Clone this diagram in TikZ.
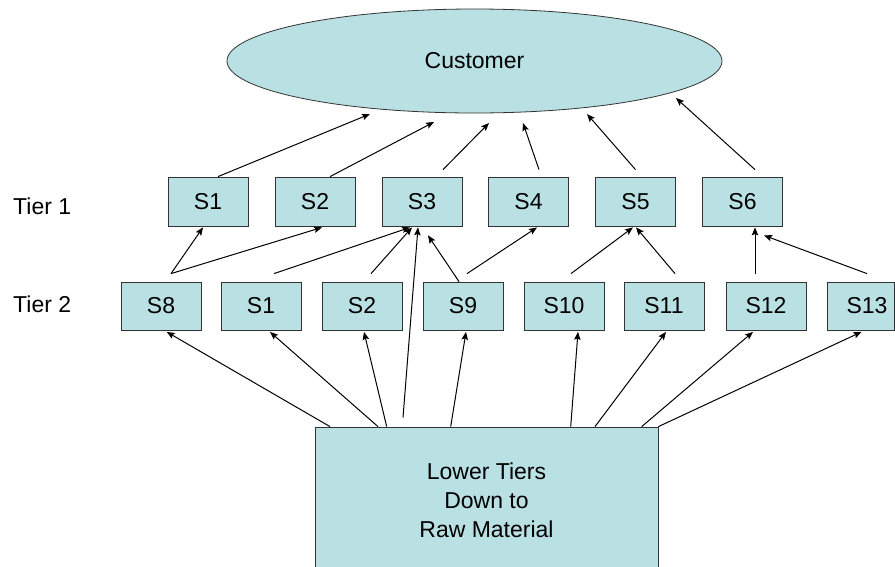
\documentclass[tikz,border=0pt]{standalone}
\usepackage{fontspec}
\setmainfont{Liberation Sans}
\usetikzlibrary{shapes.geometric,arrows.meta,calc}
\definecolor{boxfill}{RGB}{185,224,227}
\begin{document}
\begin{tikzpicture}[x=1pt,y=-1pt,
  every node/.style={font=\fontsize{23}{29}\selectfont},
  sbox/.style={draw=black!80, line width=0.8pt, fill=boxfill,
    minimum width=80pt, minimum height=48pt, inner sep=0pt},
  link/.style={line width=1pt, -{Stealth[length=8pt,width=6.5pt,inset=1.5pt]}},
]
\clip (0,0) rectangle (895,566);
\fill[white] (0,0) rectangle (895,566);

% customer
\node[ellipse, draw=black!80, line width=0.8pt, fill=boxfill,
  minimum width=495pt, minimum height=104pt, inner sep=0pt] (cust) at (474.5,61) {Customer};

% tier labels
\node[anchor=base west, inner sep=0pt] (lab1) at (13,214) {Tier 1};
\node[anchor=base west, inner sep=0pt] (lab2) at (13,312) {Tier 2};

% tier 1 suppliers
\node[sbox, minimum height=49pt] (t1s1) at (208,201.5) {S1};
\node[sbox, minimum height=49pt] (t1s2) at (315,201.5) {S2};
\node[sbox, minimum height=49pt] (t1s3) at (422,201.5) {S3};
\node[sbox, minimum height=49pt] (t1s4) at (528.5,201.5) {S4};
\node[sbox, minimum height=49pt] (t1s5) at (635.5,201.5) {S5};
\node[sbox, minimum height=49pt] (t1s6) at (742.5,201.5) {S6};

% tier 2 suppliers
\node[sbox] (t2s8) at (161,306) {S8};
\node[sbox] (t2s1) at (261,306) {S1};
\node[sbox] (t2s2) at (362,306) {S2};
\node[sbox] (t2s9) at (463,306) {S9};
\node[sbox] (t2s10) at (564,306) {S10};
\node[sbox] (t2s11) at (664,306) {S11};
\node[sbox] (t2s12) at (766,306) {S12};
\node[sbox, minimum width=67pt] (t2s13) at (860.5,306) {\hspace*{13pt}S13};

% lower tiers
\node[sbox, minimum width=343pt, minimum height=146pt, align=center] (low) at (486.5,500)
  {Lower Tiers\\Down to\\Raw Material};

% tier 1 -> customer
\draw[link] ($(t1s1.north)+(10,0)$) -- ($(cust.center)+(-104.5,53)$);
\draw[link] ($(t1s2.north)+(15,0)$) -- ($(cust.center)+(-40.5,61)$);
\draw[link] ($(t1s3.north)+(21,-7)$) -- ($(cust.center)+(14.5,62)$);
\draw[link] ($(t1s4.north)+(10.5,-7)$) -- ($(cust.center)+(48.5,62)$);
\draw[link] ($(t1s5.north)+(0,-7)$) -- ($(cust.center)+(112.5,53)$);
\draw[link] ($(t1s6.north)+(12.5,-7)$) -- ($(cust.center)+(201.5,37)$);

% tier 2 -> tier 1
\draw[link] ($(t2s8.north)+(10,-8)$) -- ($(t1s1.south)+(-5,1)$);
\draw[link] ($(t2s8.north)+(10,-8)$) -- ($(t1s2.south)+(7,1)$);
\draw[link] ($(t2s1.north)+(13,-8)$) -- ($(t1s3.south)+(-12,1)$);
\draw[link] ($(t2s2.north)+(9,-8)$) -- ($(t1s3.south)+(-10,1)$);
\draw[link] ($(t2s9.north)+(-4,0)$) -- ($(t1s3.south)+(6,9)$);
\draw[link] ($(t2s9.north)+(4,-8)$) -- ($(t1s4.south)+(8.5,1)$);
\draw[link] ($(t2s10.north)+(7,-8)$) -- ($(t1s5.south)+(-2.5,1)$);
\draw[link] ($(t2s11.north)+(11,-8)$) -- ($(t1s5.south)+(0.5,1)$);
\draw[link] ($(t2s12.north)+(-11,-8)$) -- ($(t1s6.south)+(12.5,1)$);
\draw[link] ($(t2s13.north)+(6.5,-8)$) -- ($(t1s6.south)+(21.5,9)$);

% lower tiers -> tier 2 (and straight up to S3)
\draw[link] ($(low.north)+(-83.5,-9)$) -- ($(t1s3.south)+(-4,1)$);
\draw[link] ($(low.north)+(-156.5,0)$) -- ($(t2s8.south)+(5.7,1.5)$);
\draw[link] ($(low.north)+(-108.5,0)$) -- ($(t2s1.south)+(9,1.5)$);
\draw[link] ($(low.north)+(-99.8,0)$) -- ($(t2s2.south)+(2,1.5)$);
\draw[link] ($(low.north)+(-35.8,0)$) -- ($(t2s9.south)+(3,1.5)$);
\draw[link] ($(low.north)+(84.2,0)$) -- ($(t2s10.south)+(14,1.5)$);
\draw[link] ($(low.north)+(108.5,0)$) -- ($(t2s11.south)+(2,1.5)$);
\draw[link] ($(low.north)+(155.2,0)$) -- ($(t2s12.south)+(-13,1.5)$);
\draw[link] (low.north east) -- ($(t2s13.south)+(1,1.5)$);
\end{tikzpicture}
\end{document}
